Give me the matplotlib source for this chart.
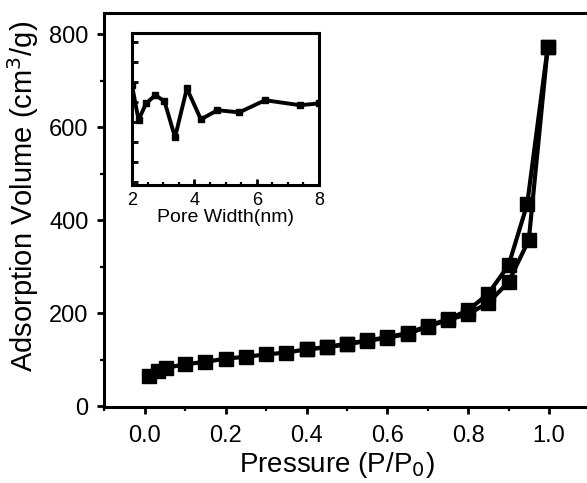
import matplotlib
matplotlib.use('Agg')
import matplotlib.pyplot as plt
from matplotlib.ticker import MultipleLocator

plt.rcParams['font.family'] = ['Liberation Sans', 'DejaVu Sans']

# adsorption branch
ads_p = [0.011, 0.033, 0.052, 0.10, 0.15, 0.20, 0.25, 0.30, 0.35, 0.40, 0.45,
         0.50, 0.55, 0.60, 0.65, 0.70, 0.75, 0.80, 0.85, 0.90, 0.95, 0.997]
ads_v = [65, 76, 82, 90, 95, 102, 106, 111, 115, 122, 126,
         133, 140, 147, 155, 171, 185, 198, 222, 267, 357, 773]

# desorption branch
des_p = [0.997, 0.946, 0.90, 0.85, 0.80, 0.75, 0.70, 0.65, 0.60, 0.55, 0.50,
         0.45, 0.40]
des_v = [773, 434, 303, 242, 206, 187, 172, 157, 148, 141, 134, 127, 122]

# inset: pore size distribution (arbitrary units)
pore_w = [2.0, 2.21, 2.45, 2.75, 3.04, 3.38, 3.76, 4.21, 4.74, 5.44, 6.27, 7.39, 8.0]
pore_v = [4.83, 3.08, 3.92, 4.33, 4.03, 2.22, 4.67, 3.12, 3.58, 3.47, 4.08, 3.83, 3.92]

fig = plt.figure(figsize=(5.87, 4.83), dpi=100)
ax = fig.add_axes([0.1772, 0.1574, 0.8407, 0.8164])

ax.plot(ads_p, ads_v, color='black', marker='s', markersize=10, linewidth=3)
ax.plot(des_p, des_v, color='black', marker='s', markersize=10, linewidth=3)

ax.set_xlim(-0.101, 1.12)
ax.set_ylim(-2, 846)
ax.xaxis.set_minor_locator(MultipleLocator(0.1))
ax.yaxis.set_major_locator(MultipleLocator(200))
ax.yaxis.set_minor_locator(MultipleLocator(100))
ax.set_xticks([0.0, 0.2, 0.4, 0.6, 0.8, 1.0])
ax.set_xticklabels(['0.0', '0.2', '0.4', '0.6', '0.8', '1.0'])
for s in ax.spines.values():
    s.set_linewidth(2.2)
ax.tick_params(which='major', direction='out', length=5, width=2, labelsize=17, pad=6)
ax.tick_params(which='minor', direction='out', length=3, width=1.6)
ax.tick_params(axis='x', which='major', pad=8)

ax.set_xlabel('Pressure (P/P$_0$)', fontsize=20, va='top')
ax.xaxis.set_label_coords(0.472, -0.108)
ax.set_ylabel('Adsorption Volume (cm$^3$/g)', fontsize=21)
ax.yaxis.set_label_coords(-0.128, 0.534)

# inset
ins = fig.add_axes([0.2249, 0.617, 0.3186, 0.3147])
ins.plot(pore_w, pore_v, color='black', marker='s', markersize=5, linewidth=2.8)
ins.set_xlim(2, 8)
ins.set_ylim(-0.17, 7.45)
ins.xaxis.set_major_locator(MultipleLocator(2))
ins.xaxis.set_minor_locator(MultipleLocator(0.5))
ins.yaxis.set_major_locator(MultipleLocator(1))
ins.set_yticklabels([])
for s in ins.spines.values():
    s.set_linewidth(2.2)
ins.tick_params(which='major', direction='in', length=4, width=2, labelsize=13, pad=5)
ins.tick_params(which='minor', direction='in', length=2.5, width=1.6)
ins.set_xlabel('Pore Width(nm)', fontsize=14, labelpad=0)

fig.savefig('out.png', dpi=100)
